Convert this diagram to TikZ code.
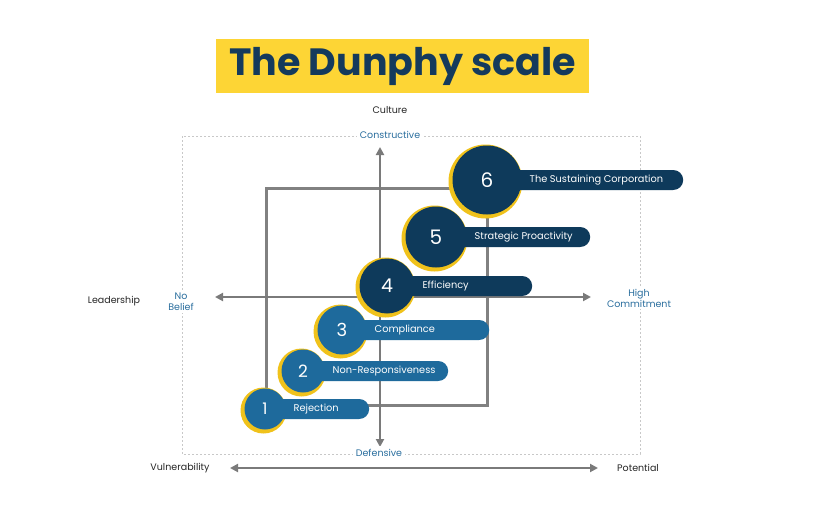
\documentclass[tikz,border=0pt]{standalone}
\usepackage{fontspec}
\setmainfont{Poppins}
\usetikzlibrary{arrows.meta}
\definecolor{navy}{HTML}{0E3A5B}
\definecolor{midblue}{HTML}{1E6A9C}
\definecolor{gold}{HTML}{F0C21B}
\definecolor{titlebg}{HTML}{FDD535}
\definecolor{titletext}{HTML}{143A5C}
\definecolor{lblue}{HTML}{2A6E9E}
\definecolor{axgray}{HTML}{7A7A7A}
\definecolor{dashgray}{HTML}{C8C8C8}
\newcommand\stage[8]{%
  % #1 id, #2 cx, #3 cy, #4 r, #5 right x, #6 colour, #7 number size, #8 label
  \node[circle, fill=gold, inner sep=0pt, minimum size={2*#4+5}] (g#1) at (#2-1.5,#3+1.5) {};
  \node[pillbox, fill=#6, minimum width={#5-#2}, anchor=west] (p#1) at (#2,#3) {};
  \node[circle, fill=#6, inner sep=0pt, minimum size={2*#4}, text=white,
        font=\fontsize{#7}{#7}\selectfont] (c#1) at (#2,#3) {#1};
  \node[pilltext, anchor=west] (t#1) at (#2+#4+8,#3+0.5) {#8};
}
\begin{document}
\begin{tikzpicture}[x=1pt,y=-1pt,
  pillbox/.style={rounded corners=10pt, minimum height=20pt, inner sep=0pt},
  pilltext/.style={text=white, font=\fontsize{9.8}{10}\selectfont, inner sep=0pt},
  axis/.style={axgray, line width=2pt, {Triangle[width=8pt,length=8pt]}-{Triangle[width=8pt,length=8pt]}},
  plainlbl/.style={text=black!85, font=\fontsize{9.5}{11}\selectfont, align=center},
  bluelbl/.style={text=lblue, font=\fontsize{9.5}{11}\selectfont, align=center, fill=white, inner sep=3pt}]
\useasboundingbox (0,0) rectangle (815,525);
\fill[white] (0,0) rectangle (815,525);
% title
\node[fill=titlebg, minimum width=373pt, minimum height=54pt, inner sep=0pt,
      text=titletext, font=\fontsize{38}{38}\selectfont\bfseries] (title) at (402.5,66) {The Dunphy scale};
% dashed frame
\draw[dashgray, line width=0.6pt, dash pattern=on 2pt off 2pt] (182,136) rectangle (640,454);
% grey square
\draw[axgray!95, line width=3pt] (266,188) rectangle (487,405);
% axes
\coordinate (vt) at (380,147);
\coordinate (vb) at (380,447);
\coordinate (hl) at (215,297);
\coordinate (hr) at (591,297);
\coordinate (bl) at (230,468);
\coordinate (br) at (598,468);
\draw[axis] (vb) -- (vt);
\draw[axis] (hl) -- (hr);
\draw[axis] (bl) -- (br);
% labels
\node[plainlbl] (culture) at (390,110) {Culture};
\node[bluelbl] (constr) at (390,135) {Constructive};
\node[bluelbl] (def) at (379,453) {Defensive};
\node[bluelbl, inner sep=2pt] (nob) at (181,302) {No\\Belief};
\node[bluelbl, inner sep=2pt] (high) at (639,298) {High\\Commitment};
\node[plainlbl] (lead) at (114,301) {Leadership};
\node[plainlbl] (vul) at (180,468) {Vulnerability};
\node[plainlbl] (pot) at (638,468) {Potential};
% stages
\stage{1}{265}{409}{20.5}{369}{midblue}{16}{Rejection}
\stage{2}{303}{371}{21.5}{448}{midblue}{17}{Non-Responsiveness}
\stage{3}{342}{330}{24.5}{489}{midblue}{18}{Compliance}
\stage{4}{387}{286}{27.5}{532}{navy}{19}{Efficiency}
\stage{5}{436}{237}{30.5}{590}{navy}{20}{Strategic Proactivity}
\stage{6}{487}{180}{34.5}{683}{navy}{20}{The Sustaining Corporation}
\end{tikzpicture}
\end{document}
